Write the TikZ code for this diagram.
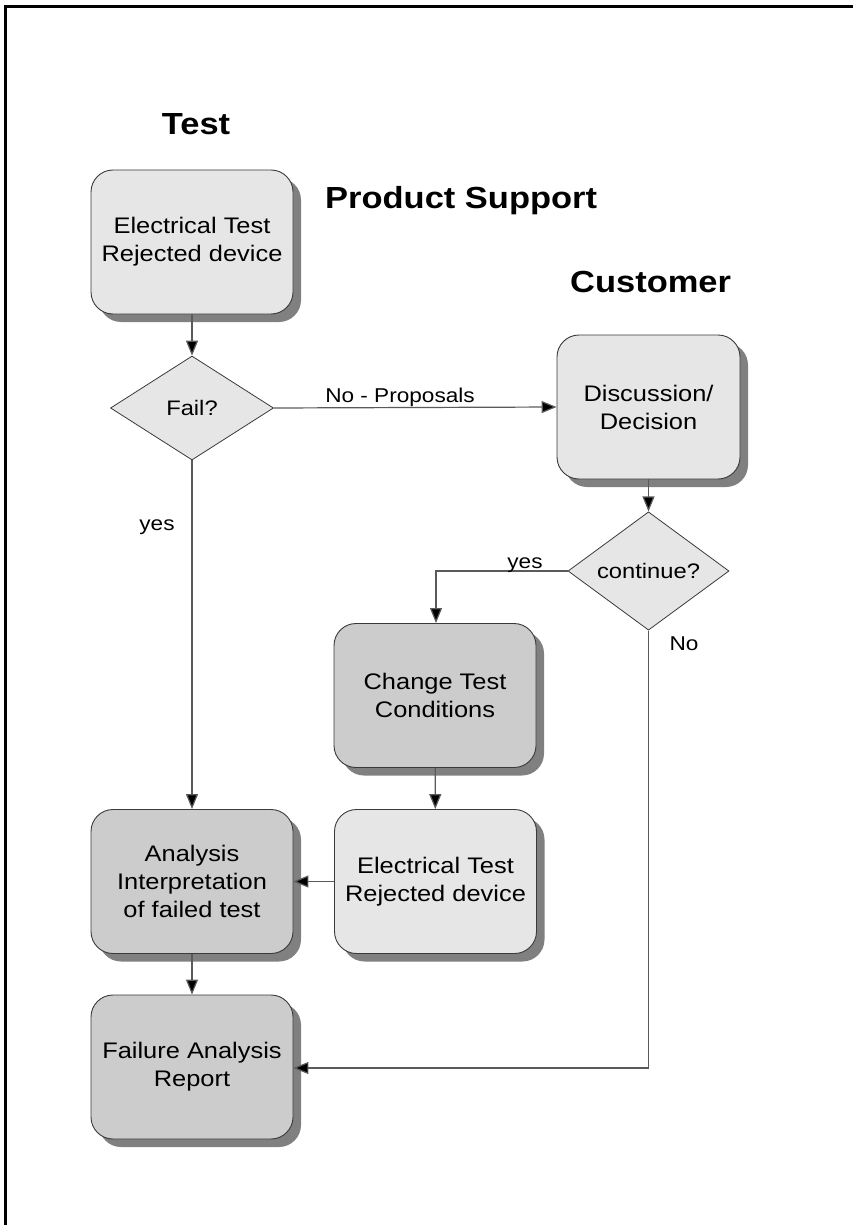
\documentclass[tikz,border=0pt]{standalone}
\usepackage{fontspec}
\setmainfont{Liberation Sans}[FakeStretch=1.13]
\usetikzlibrary{shapes.geometric,shadows,arrows.meta}
\definecolor{lightbox}{HTML}{E6E6E6}
\definecolor{darkbox}{HTML}{CCCCCC}
\definecolor{shade}{HTML}{808080}
\definecolor{edge}{HTML}{3A3A3A}
\definecolor{conn}{HTML}{5A5A5A}
\begin{document}
\begin{tikzpicture}[x=1pt,y=-1pt,
  procbox/.style={draw=edge,line width=0.9pt,rounded corners=22pt,
    minimum width=202pt,minimum height=144pt,align=center,
    font=\fontsize{22.5}{28}\selectfont,
    drop shadow={shadow xshift=8pt,shadow yshift=-8pt,fill=shade,opacity=1}},
  lightproc/.style={procbox,fill=lightbox},
  darkproc/.style={procbox,fill=darkbox},
  decision/.style={diamond,draw=edge,line width=0.8pt,fill=lightbox,
    inner sep=0pt,font=\fontsize{21}{25}\selectfont},
  title/.style={font=\bfseries\fontsize{30.5}{34}\selectfont,inner sep=0pt},
  lbl/.style={font=\fontsize{20}{24}\selectfont,inner sep=0pt},
  flow/.style={draw=conn,line width=1.2pt,-{Triangle[length=15pt,width=12pt,fill=black]}}
]
\useasboundingbox (0,0) rectangle (852,1225);
\draw[line width=2.2pt] (5.5,1226) -- (5.5,6.5) -- (853,6.5);

\node[title,anchor=base] (tTest) at (196,135) {Test};
\node[title,anchor=base west] (tPS) at (325,208) {Product Support};
\node[title,anchor=base west] (tCust) at (570,292) {Customer};

\node[lightproc] (et1) at (192,242) {Electrical Test\\Rejected device};
\node[decision,minimum width=163pt,minimum height=104pt] (fail) at (192,408) {Fail?};
\node[lightproc,minimum width=183pt] (disc) at (648.5,407) {Discussion/\\Decision};
\node[decision,minimum width=161pt,minimum height=103pt] (cont) at (648.5,571) {continue?};
\node[darkproc] (chg) at (435,695.5) {Change Test\\Conditions};
\node[lightproc] (et2) at (435.5,881.5) {Electrical Test\\Rejected device};
\node[darkproc] (ana) at (192,881.5) {Analysis\\Interpretation\\of failed test};
\node[darkproc] (far) at (192,1067) {Failure Analysis\\Report};

\coordinate (yesbend) at (436,571);
\coordinate (nobend) at (648.5,1068);

\draw[flow] (et1) -- (fail);
\draw[flow] (fail.east) -- (disc.west);
\draw[flow] (disc) -- (cont);
\draw[flow] (cont.west) -- (yesbend) -- (chg.north -| yesbend);
\draw[flow] (fail.south) -- (ana.north);
\draw[flow] (chg) -- (et2);
\draw[flow] (et2.west) -- (ana.east);
\draw[flow] (ana) -- (far);
\draw[flow] (cont.south) -- (nobend) -- (far.east |- nobend);

\node[lbl,anchor=base] (lNP) at (400,402) {No - Proposals};
\node[lbl,anchor=base] (lYes1) at (525,568) {yes};
\node[lbl,anchor=base] (lYes2) at (157,530) {yes};
\node[lbl,anchor=base] (lNo) at (684,650) {No};
\end{tikzpicture}
\end{document}
